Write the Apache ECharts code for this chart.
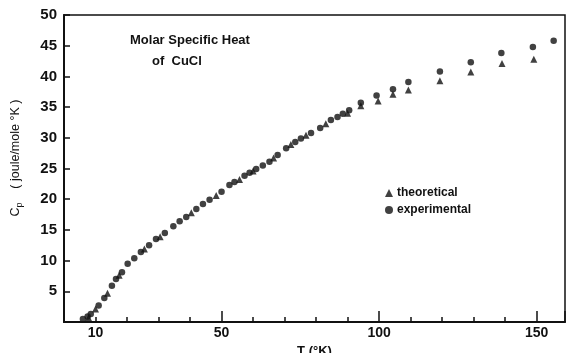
<!DOCTYPE html>
<html>
<head>
<meta charset="utf-8">
<script src="https://cdn.jsdelivr.net/npm/echarts@6/dist/echarts.min.js"></script>
<style>html,body{margin:0;padding:0;background:#fff;}#c{width:566px;height:353px;}</style>
</head>
<body>
<div id="c"></div>
<script>
var expT  = [6, 7.5, 8.5, 11, 12.8, 15.2, 16.5, 18.4, 20.2, 22.3, 24.4, 27, 29.2, 32, 34.7, 36.7, 38.8, 42, 44.1, 46.2, 50, 52.5, 54.1, 57.3, 58.9, 61, 63.1, 65.2, 67.8, 70.5, 73.4, 75.2, 78.4, 81.3, 84.7, 86.8, 88.5, 90.5, 94.2, 99.2, 104.4, 109.3, 119.3, 129.1, 138.8, 148.8, 155.4];
var expCp = [0.5, 0.9, 1.3, 2.7, 3.9, 5.9, 7.0, 8.1, 9.5, 10.4, 11.4, 12.5, 13.5, 14.5, 15.6, 16.4, 17.1, 18.4, 19.2, 19.9, 21.2, 22.3, 22.8, 23.8, 24.3, 24.9, 25.5, 26.1, 27.2, 28.3, 29.3, 29.9, 30.8, 31.6, 32.9, 33.4, 33.9, 34.5, 35.7, 36.9, 37.9, 39.1, 40.8, 42.3, 43.8, 44.8, 45.8];
var theoT  = [7.8, 10, 13.8, 17.5, 25.5, 30.5, 40.4, 48.3, 55.7, 60, 66.5, 72, 76.8, 83.1, 90, 94.2, 99.7, 104.4, 109.3, 119.3, 129.1, 139, 149.1];
var theoCp = [0.7, 2.1, 4.7, 7.6, 11.9, 13.9, 17.8, 20.6, 23.2, 24.6, 26.7, 28.9, 30.4, 32.3, 34.0, 35.2, 36.0, 37.1, 37.8, 39.3, 40.7, 42.1, 42.8];
var xLabels = [10, 50, 100, 150];
var yLabels = [5, 10, 15, 20, 25, 30, 35, 40, 45, 50];

function pairs(a, b) { return a.map(function (v, i) { return [v, b[i]]; }); }

var font = 'Liberation Sans, Arial, sans-serif';
var chart = echarts.init(document.getElementById('c'), null, {renderer: 'canvas'});
chart.setOption({
  animation: false,
  backgroundColor: '#fff',
  grid: {left: 64, right: 1, top: 15, bottom: 31, outerBoundsMode: 'none', containLabel: false,
    show: true, borderColor: '#111', borderWidth: 1.5, backgroundColor: 'transparent'},
  xAxis: [{
    type: 'value', min: 0, max: 159, interval: 10,
    axisLine: {lineStyle: {color: '#111', width: 2}},
    axisTick: {inside: true, length: 5, lineStyle: {color: '#111', width: 1.5}},
    splitLine: {show: false},
    axisLabel: {color: '#111', fontSize: 14, fontFamily: font, fontWeight: 'bold', margin: 4,
      formatter: function (v) { return xLabels.indexOf(v) >= 0 ? String(v) : ''; }},
    name: 'T (°K)', nameLocation: 'middle', nameGap: 20,
    nameTextStyle: {color: '#111', fontSize: 13, fontFamily: font, fontWeight: 'bold'}
  }, {
    type: 'value', min: 0, max: 159, interval: 50, position: 'bottom',
    axisLine: {show: false},
    axisTick: {inside: true, length: 11, lineStyle: {color: '#111', width: 1.5}},
    axisLabel: {show: false}, splitLine: {show: false}
  }],
  yAxis: {
    type: 'value', min: 0, max: 50, interval: 5,
    axisLine: {show: true, lineStyle: {color: '#111', width: 2}},
    axisTick: {inside: true, length: 6, lineStyle: {color: '#111', width: 1.5}},
    splitLine: {show: false},
    axisLabel: {color: '#111', fontSize: 15, fontFamily: font, fontWeight: 'bold', margin: 7,
      formatter: function (v) { return yLabels.indexOf(v) >= 0 ? String(v) : ''; }},
    name: '{c|      }{c|C}{s|p}{c|    ( joule/mole °K )}', nameLocation: 'middle', nameGap: 40,
    nameTextStyle: {color: '#111', fontFamily: font,
      rich: {c: {fontSize: 12.5, fontFamily: font, color: '#111'}, s: {fontSize: 9, fontFamily: font, color: '#111', padding: [8, 0, 0, 0]}}}
  },
  legend: {
    orient: 'vertical', left: 380, top: 182, itemWidth: 8, itemHeight: 8, itemGap: 5,
    textStyle: {color: '#111', fontSize: 12, fontFamily: font, fontWeight: 'bold', padding: [0, 0, 0, -1]},
    data: [{name: 'theoretical', icon: 'triangle'}, {name: 'experimental', icon: 'circle'}]
  },
  graphic: [{
    type: 'text', left: 130, top: 34,
    style: {text: 'Molar Specific Heat', fill: '#111', font: 'bold 13px ' + font}
  }, {
    type: 'text', left: 152, top: 55,
    style: {text: 'of  CuCl', fill: '#111', font: 'bold 13px ' + font}
  }],
  series: [{
    name: 'theoretical', type: 'scatter', symbol: 'triangle', symbolSize: 7,
    itemStyle: {color: '#111'}, data: pairs(theoT, theoCp), z: 3
  }, {
    name: 'experimental', type: 'scatter', symbol: 'circle', symbolSize: 6.5,
    itemStyle: {color: '#111'}, data: pairs(expT, expCp), z: 4
  }]
});
</script>
</body>
</html>
